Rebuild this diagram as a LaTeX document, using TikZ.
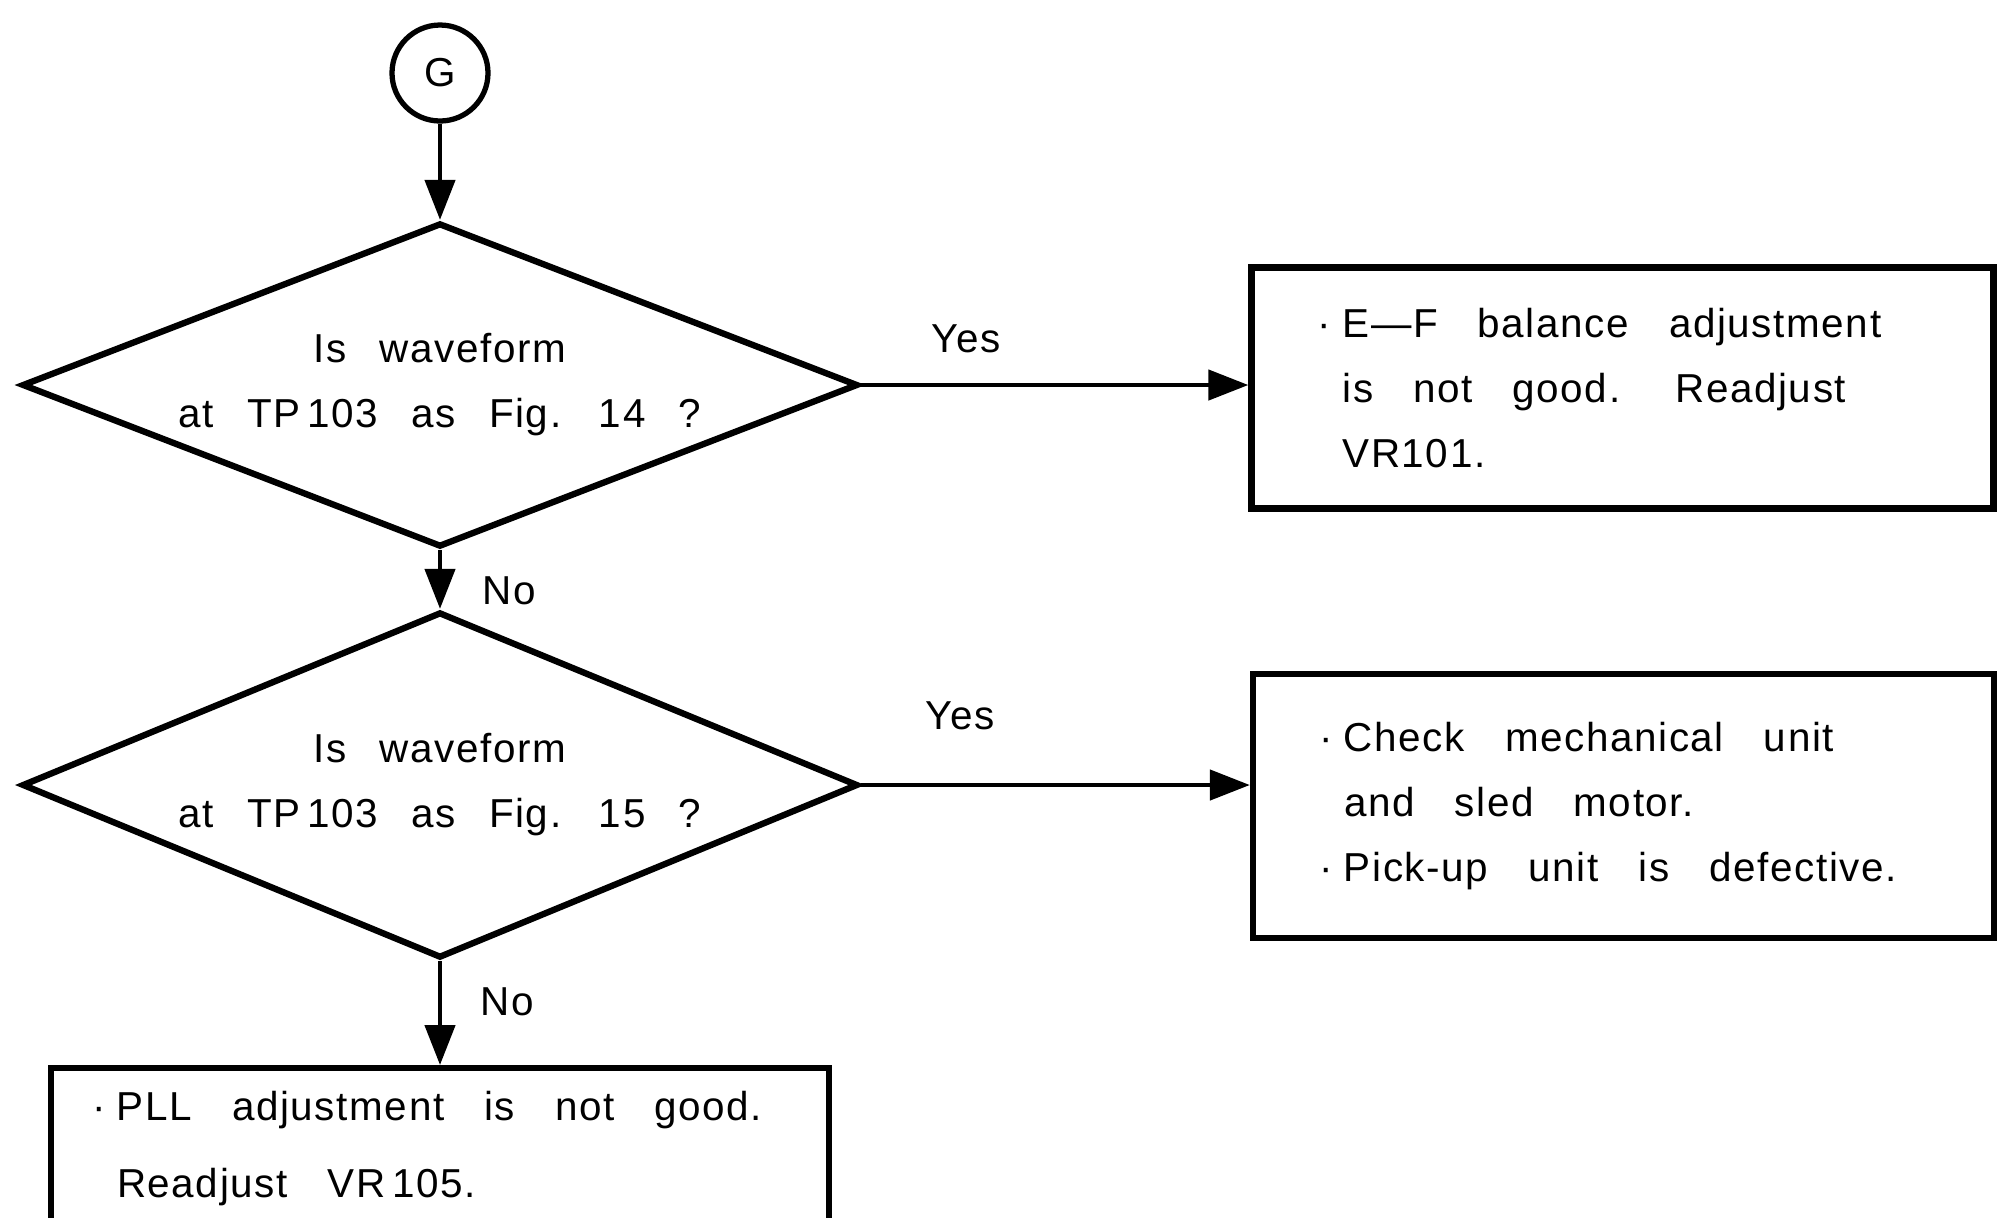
\documentclass[tikz,border=0pt]{standalone}
\usepackage{fontspec}
\setmainfont{Liberation Sans}[LetterSpace=4,WordSpace=2.6]
\usetikzlibrary{arrows.meta, positioning, shapes.geometric}
\newcommand{\bulpt}{\makebox[0.25cm][l]{·}}
\newcommand{\bulin}{\hspace*{0.25cm}}

\begin{document}
\begin{tikzpicture}[
  font=\fontsize{11.5}{18.5}\selectfont,
  conn/.style ={draw, circle, line width=1.5pt, minimum size=0.96cm, inner sep=0pt},
  ask/.style  ={draw, diamond, aspect=2.5, line width=1.8pt, align=center, inner sep=0pt, minimum width=8.36cm},
  fix/.style  ={draw, rectangle, line width=1.8pt, align=left, inner ysep=0pt,
                execute at begin node={\spaceskip=0.4cm plus 0.05cm minus 0.05cm\xspaceskip=0.55cm\relax}},
  arr/.style  ={-{Triangle[length=4mm, width=3mm]}, line width=1.3pt},
  lbl/.style  ={inner sep=0pt},
]
  \useasboundingbox (0,0) rectangle (19.98,-12.17);
  \clip (0,0) rectangle (19.98,-12.17);

  \node[conn]                            (g)    at (4.40,-0.73)   {G};
  \node[ask, minimum height=3.24cm]      (q1)   at (4.40,-3.85)   {Is waveform\\at TP\,103 as Fig. 14 ?};
  \node[ask, minimum height=3.46cm]      (q2)   at (4.40,-7.85)   {Is waveform\\at TP\,103 as Fig. 15 ?};
  \node[fix, text width=6.10cm, inner xsep=0.66cm, minimum height=2.41cm]
                                         (fix1) at (16.225,-3.88) {\bulpt E—F balance adjustment\\\bulin is not good. Readjust\\\bulin VR101.};
  \node[fix, text width=6.09cm, inner xsep=0.66cm, minimum height=2.64cm]
                                         (fix2) at (16.235,-8.06) {\bulpt Check mechanical unit\\\bulin and sled motor.\\\bulpt Pick-up unit is defective.};
  \node[fix, text width=6.96cm, inner xsep=0.41cm, minimum height=1.60cm, anchor=north]
                                         (fix3) at (4.40,-10.65)  {\bulpt PLL adjustment is not good.\\[0.12cm]\bulin Readjust VR\,105.};

  \draw[arr] (g)  -- (q1);
  \draw[arr] (q1.east) -- node[lbl, pos=0.27, above=0.3cm]{Yes} (q1.east -| fix1.west);
  \draw[arr] (q1) -- node[lbl, pos=0.69, right=0.4cm]{No} (q2);
  \draw[arr] (q2.east) -- node[lbl, pos=0.255, above=0.53cm]{Yes} (q2.east -| fix2.west);
  \draw[arr] (q2) -- node[lbl, pos=0.39, right=0.38cm]{No} (fix3);
\end{tikzpicture}
\end{document}
